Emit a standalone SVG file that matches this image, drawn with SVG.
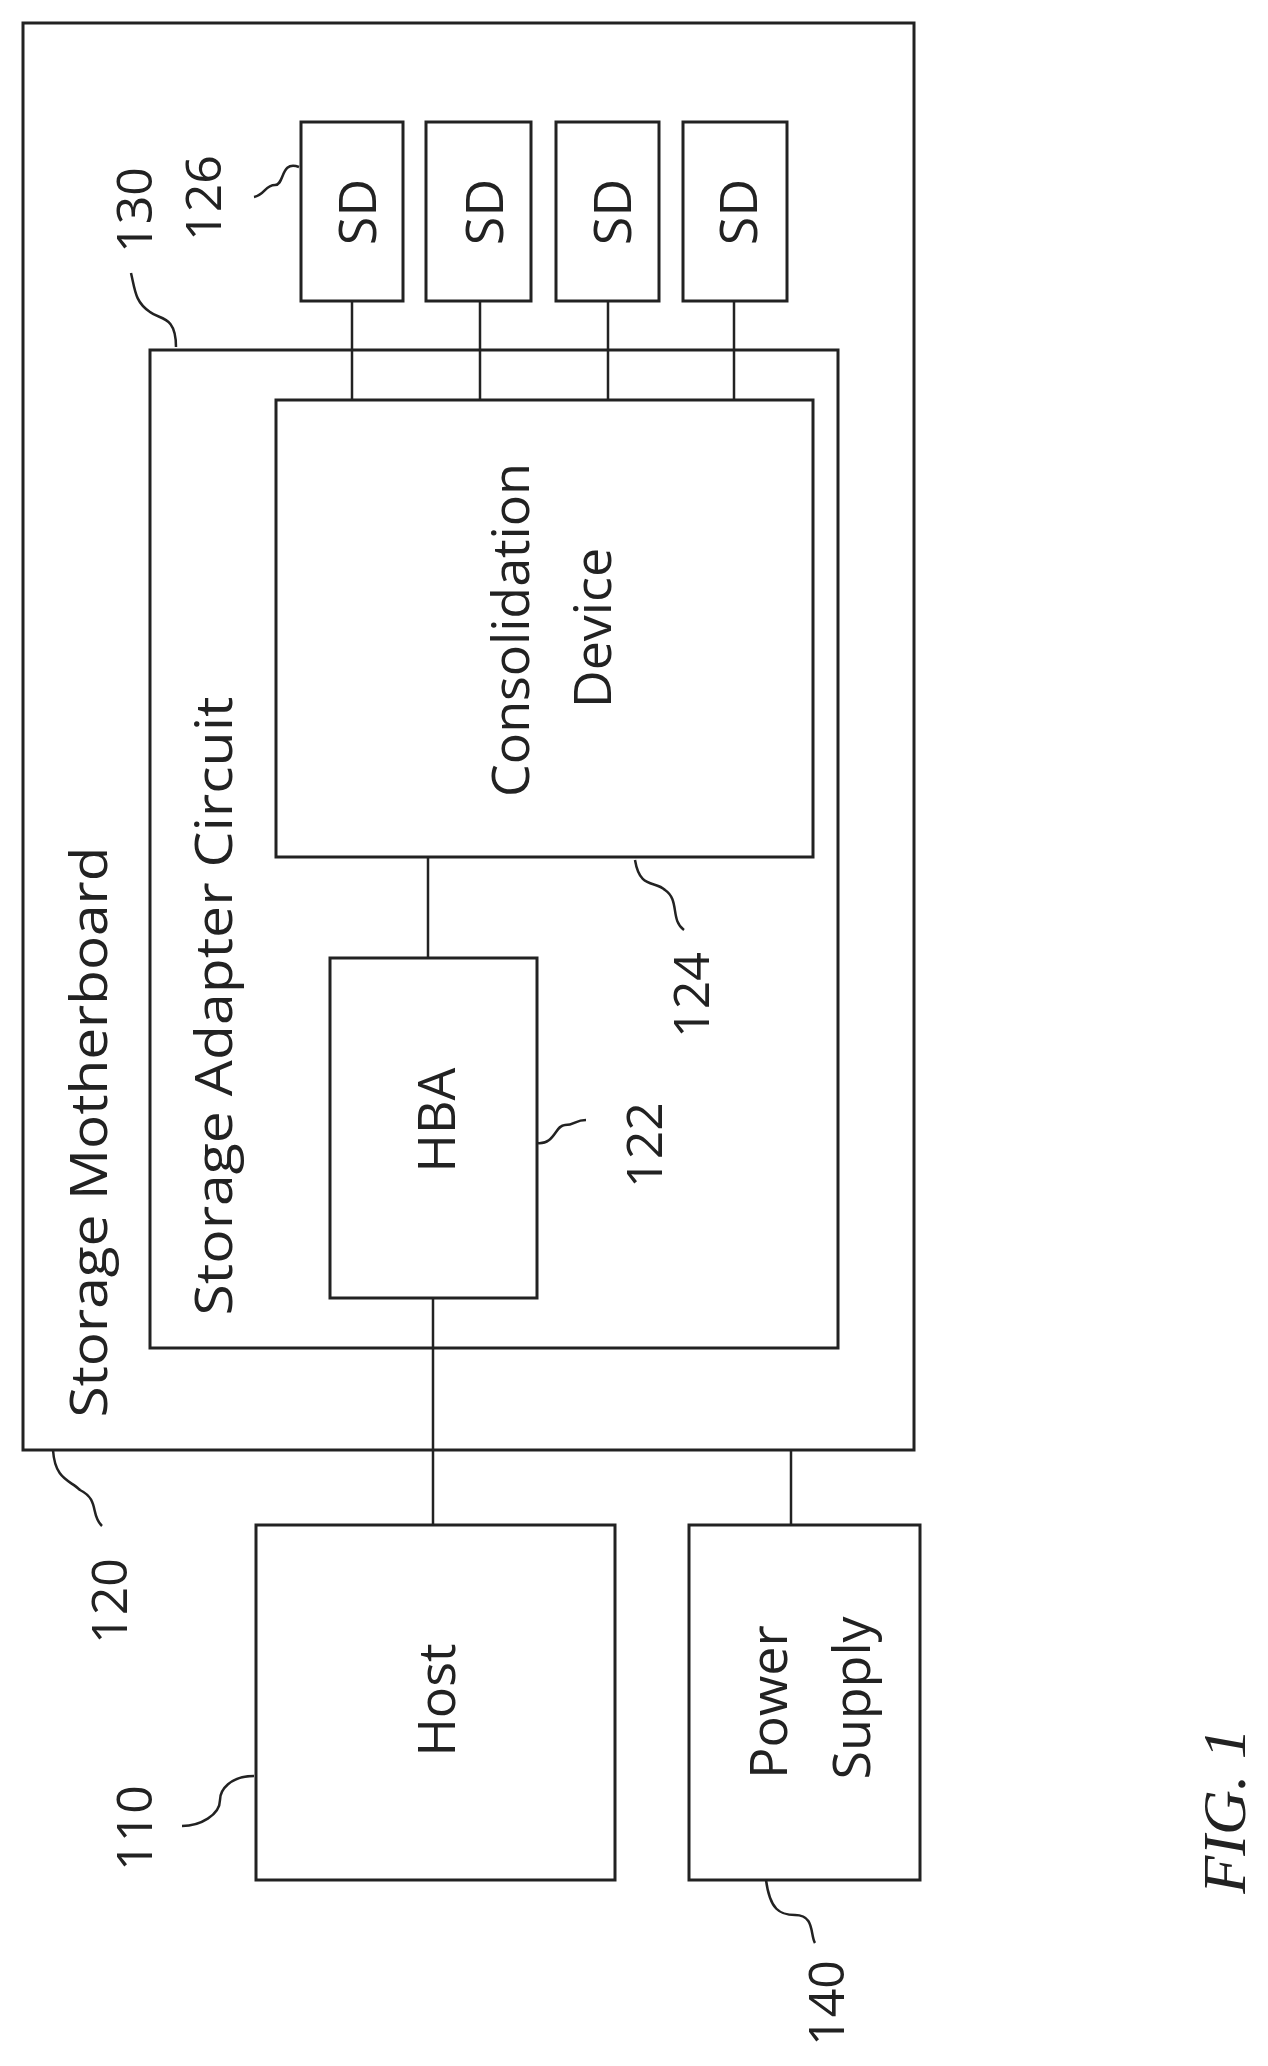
<svg xmlns="http://www.w3.org/2000/svg" width="1268" height="2066" viewBox="0 0 1268 2066">
<style>
rect{fill:none;stroke:#222;stroke-width:3}
line,path{fill:none;stroke:#222;stroke-width:2.5}
text{font-family:"Open Sans","DejaVu Sans",sans-serif;font-size:52px;fill:#222;text-anchor:middle}
.n{font-size:50px}
.fig{font-family:"Liberation Serif",serif;font-style:italic;font-size:62px}
</style>
<rect width="1268" height="2066" fill="#fff" style="fill:#fff;stroke:none"/>
<g id="motherboard"><rect x="23" y="23" width="891" height="1427"/>
<text transform="translate(107,1132) rotate(-90)" textLength="571" lengthAdjust="spacingAndGlyphs">Storage Motherboard</text></g>
<g id="adapter"><rect x="150" y="350" width="688" height="998"/>
<text transform="translate(232,1006) rotate(-90)" textLength="619" lengthAdjust="spacingAndGlyphs">Storage Adapter Circuit</text></g>
<g id="consolidation"><rect x="276" y="400" width="537" height="457"/>
<text transform="translate(529,630) rotate(-90)">Consolidation</text>
<text transform="translate(611,628) rotate(-90)">Device</text></g>
<g id="sd1"><rect x="301" y="122" width="102" height="179"/><text transform="translate(376,212) rotate(-90)">SD</text></g>
<g id="sd2"><rect x="426" y="122" width="105" height="179"/><text transform="translate(503,212) rotate(-90)">SD</text></g>
<g id="sd3"><rect x="556" y="122" width="103" height="179"/><text transform="translate(631,212) rotate(-90)">SD</text></g>
<g id="sd4"><rect x="683" y="122" width="104" height="179"/><text transform="translate(757,212) rotate(-90)">SD</text></g>
<g id="hba"><rect x="330" y="958" width="207" height="340"/><text transform="translate(455,1120) rotate(-90)">HBA</text></g>
<g id="host"><rect x="256" y="1525" width="359" height="355"/><text transform="translate(455,1700) rotate(-90)">Host</text></g>
<g id="power"><rect x="689" y="1525" width="231" height="355"/>
<text transform="translate(787,1702) rotate(-90)">Power</text><text transform="translate(870,1698) rotate(-90)">Supply</text></g>
<g id="connectors">
<line x1="352" y1="301" x2="352" y2="400"/><line x1="480" y1="301" x2="480" y2="400"/>
<line x1="608" y1="301" x2="608" y2="400"/><line x1="734" y1="301" x2="734" y2="400"/>
<line x1="428" y1="857" x2="428" y2="958"/>
<line x1="433" y1="1298" x2="433" y2="1525"/>
<line x1="791" y1="1450" x2="791" y2="1525"/>
</g>
<g id="labels">
<path d="M176,347 C176,315 160,320 150,312 C135,302 135,290 131,273"/>
<text class="n" transform="translate(152,210) rotate(-90)">130</text>
<path d="M299,167 C280,160 285,185 275,185 C265,185 265,195 254,197"/>
<text class="n" transform="translate(221,198) rotate(-90)">126</text>
<path d="M635,860 C640,890 655,880 665,890 C680,900 670,920 684,930"/>
<text class="n" transform="translate(709,995) rotate(-90)">124</text>
<path d="M537,1143 C555,1145 555,1125 565,1125 C575,1125 575,1120 586,1120"/>
<text class="n" transform="translate(662,1145) rotate(-90)">122</text>
<path d="M53,1450 C55,1480 70,1480 80,1490 C100,1500 90,1515 102,1526"/>
<text class="n" transform="translate(127,1601) rotate(-90)">120</text>
<path d="M254,1776 C230,1776 220,1790 220,1800 C220,1815 200,1826 182,1826"/>
<text class="n" transform="translate(152,1828) rotate(-90)">110</text>
<path d="M766,1880 C770,1910 780,1915 795,1915 C815,1915 810,1935 815,1943"/>
<text class="n" transform="translate(844,2003) rotate(-90)">140</text>
<text class="fig" transform="translate(1245,1811) rotate(-90)">FIG. 1</text>
</g>
</svg>
